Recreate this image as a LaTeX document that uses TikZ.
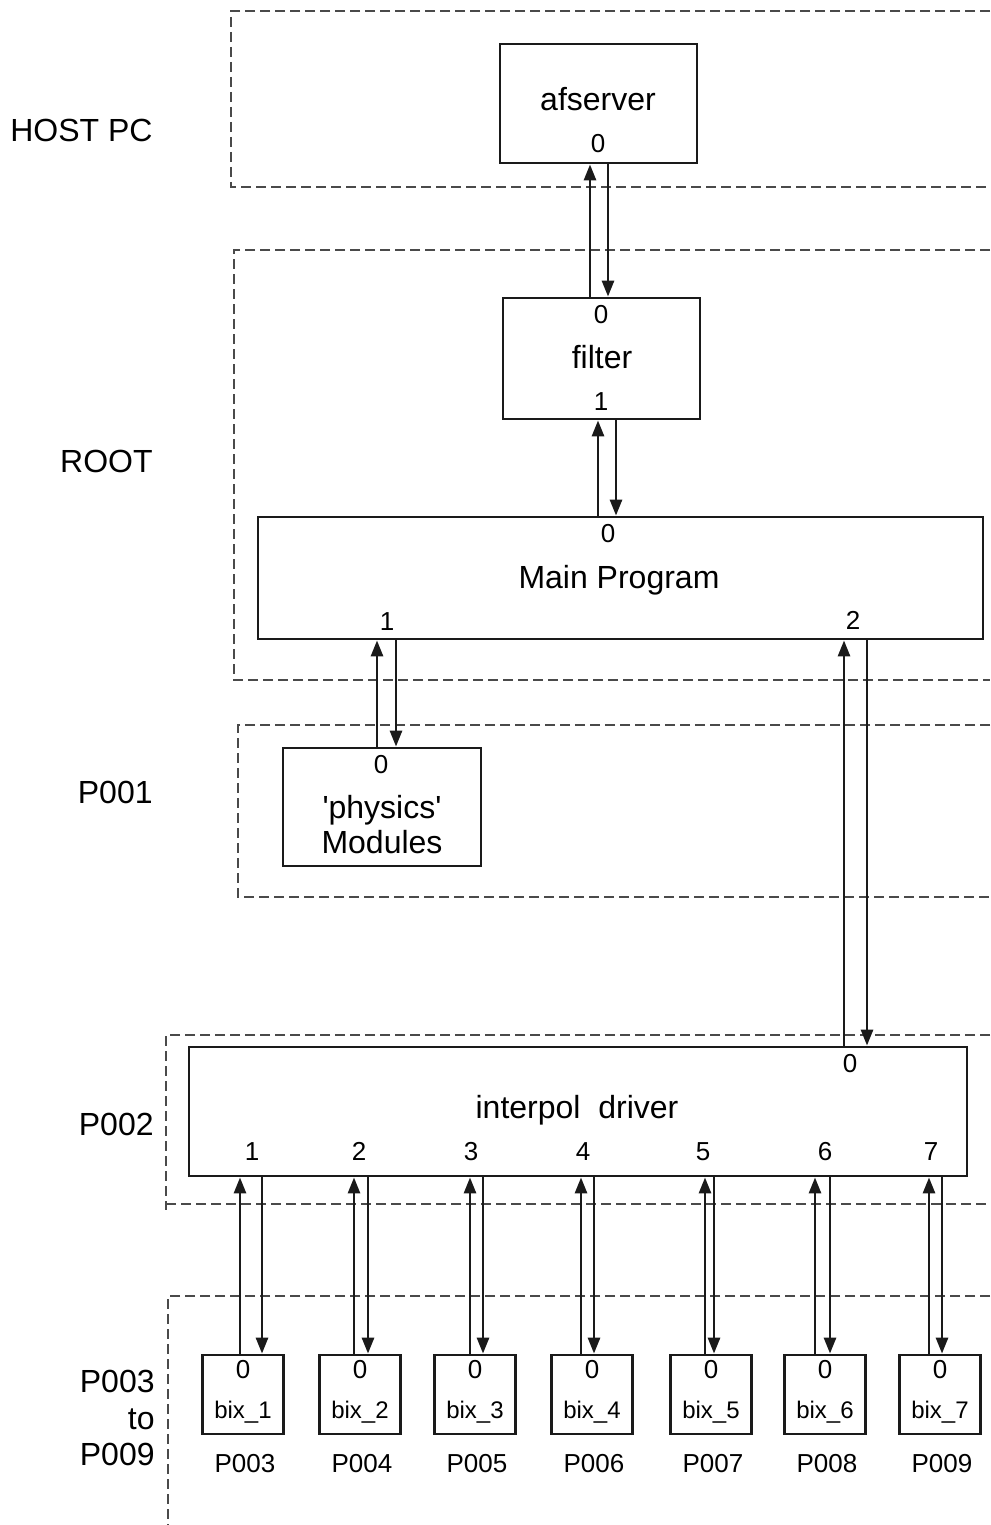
\documentclass[tikz,border=0pt]{standalone}
\usepackage{fontspec}
\setmainfont{Liberation Sans}
\usepackage{xcolor}
\usepackage{tikz}
\usetikzlibrary{arrows.meta}
\definecolor{ink}{HTML}{1A1A1A}
\definecolor{rule}{HTML}{4A4A4A}

\begin{document}
\begin{tikzpicture}[x=0.5pt, y=-0.5pt,
    box/.style ={draw=ink, line width=1.4pt, inner sep=0pt},
    bixbox/.style={box, minimum width=40.5pt, minimum height=39.5pt},
    title/.style={font=\fontsize{16}{19}\selectfont, inner sep=0pt,
                  text height=11.5pt, text depth=0pt},
    side/.style={font=\fontsize{16}{18.25}\selectfont, inner sep=0pt,
                 anchor=east, align=right},
    port/.style={font=\fontsize{13}{14}\selectfont, inner sep=0pt,
                 text height=9.3pt, text depth=0pt},
    small/.style={font=\fontsize{12}{14}\selectfont, inner sep=0pt,
                  text height=8.7pt, text depth=0pt},
    proc/.style ={font=\fontsize{13}{15}\selectfont, inner sep=0pt,
                  text height=9.3pt, text depth=0pt},
    arr/.style ={-{Triangle[length=8pt, width=6pt]}, line width=1.4pt, draw=ink},
    zone/.style={draw=rule, line width=0.8pt, dash pattern=on 5pt off 2.5pt}]

  \useasboundingbox (0,0) rectangle (990,1525);

  % processor regions
  \draw[zone] (990,11)   -- (231,11)   -- (231,187)  -- (990,187);
  \draw[zone] (990,250)  -- (234,250)  -- (234,680)  -- (990,680);
  \draw[zone] (990,725)  -- (238,725)  -- (238,897)  -- (990,897);
  \draw[zone] (990,1035) -- (166,1035) -- (166,1210);
  \draw[zone] (166,1204) -- (990,1204);
  \draw[zone] (990,1296) -- (168,1296) -- (168,1525);

  \node[side] (host) at (153,130)  {HOST PC};
  \node[side] (root) at (153,461)  {ROOT};
  \node[side] (p001) at (153,792)  {P001};
  \node[side] (p002) at (154,1124) {P002};
  \node[side] (prest) at (155,1418) {P003\\to\\P009};

  % tasks
  \node[box, minimum width=98.5pt, minimum height=59.5pt] (afs) at (598.5,103.5) {};
  \node[title] (afs-t) at (598,99)  {afserver};
  \node[port] (afs-0) at (598,143) {0};

  \node[box, minimum width=98.5pt, minimum height=60.5pt] (filt) at (601.5,358.5) {};
  \node[port] (filt-0) at (601,314) {0};
  \node[title] (filt-t) at (602,357) {filter};
  \node[port] (filt-1) at (601,401) {1};

  \node[box, minimum width=362.5pt, minimum height=61pt] (main) at (620.5,578) {};
  \node[port] (main-0) at (608,533) {0};
  \node[title] (main-t) at (619,577) {Main Program};
  \node[port] (main-1) at (387,621) {1};
  \node[port] (main-2) at (853,620) {2};

  \node[box, minimum width=99pt, minimum height=59pt] (phys) at (382,807) {};
  \node[port] (phys-0) at (381,764) {0};
  \node[font=\fontsize{16}{17.5}\selectfont, align=center, inner sep=0pt]
       (phys-t) at (382,825) {\textquotesingle physics\textquotesingle\\Modules};

  \node[box, minimum width=389pt, minimum height=64.5pt] (drv) at (578,1111.5) {};
  \node[port] (drv-0) at (850,1063) {0};
  \node[title] (drv-t) at (577,1107) {interpol\ \ driver};
  \foreach \i/\x in {1/252, 2/359, 3/471, 4/583, 5/703, 6/825, 7/931}
    \node[port] (drv-\i) at (\x,1151) {\i};

  \foreach \i/\x/\p in {1/243/3, 2/360/4, 3/475/5, 4/592/6, 5/711/7, 6/825/8, 7/940/9} {
    \node[bixbox] (bix\i) at (\x,1394.5) {};
    \node[port]  (bix\i-0) at (\x,1369) {0};
    \node[small] (bix\i-t) at (\x,1410) {bix\_\i};
    \node[proc]  (bix\i-p) at (\x+2,1463) {P00\p};
  }

  % channels
  \draw[arr] (filt.north -| 590,0) -- (afs.south -| 590,0);
  \draw[arr] (afs.south -| 608,0)  -- (filt.north -| 608,0);
  \draw[arr] (main.north -| 598,0) -- (filt.south -| 598,0);
  \draw[arr] (filt.south -| 616,0) -- (main.north -| 616,0);
  \draw[arr] (phys.north -| 377,0) -- (main.south -| 377,0);
  \draw[arr] (main.south -| 396,0) -- (phys.north -| 396,0);
  \draw[arr] (drv.north -| 844,0)  -- (main.south -| 844,0);
  \draw[arr] (main.south -| 867,0) -- (drv.north -| 867,0);

  \foreach \i/\u/\d in {1/240/262, 2/354/368, 3/470/483, 4/581/594,
                        5/705/714, 6/815/830, 7/929/942} {
    \draw[arr] (bix\i.north -| \u,0) -- (drv.south -| \u,0);
    \draw[arr] (drv.south -| \d,0)   -- (bix\i.north -| \d,0);
  }
\end{tikzpicture}
\end{document}
